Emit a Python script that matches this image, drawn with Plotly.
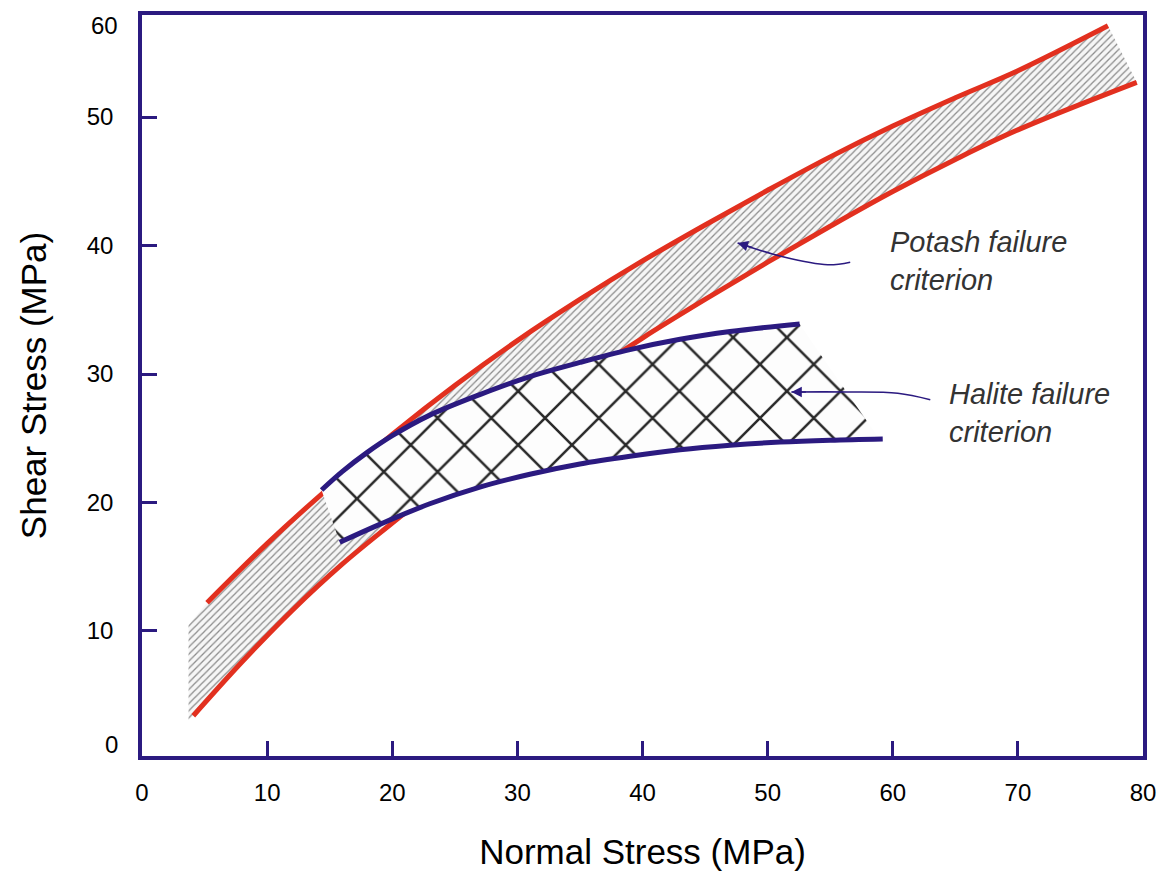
import plotly.graph_objects as go

# ---- data ----
potash_upper_x = [5.2, 10, 15, 20, 25, 30, 35, 40, 45, 50, 55, 60, 65, 70, 77.2]
potash_upper_y = [12.2, 16.8, 21.2, 25.3, 29.1, 32.6, 35.8, 38.8, 41.6, 44.3, 46.9, 49.3, 51.5, 53.6, 57.1]

potash_lower_x = [4.1, 8, 12, 16, 20, 25, 30, 35, 40, 45, 50, 55, 60, 65, 70, 79.5]
potash_lower_y = [3.4, 7.6, 11.6, 15.2, 18.4, 22.3, 26.1, 29.6, 32.8, 35.8, 38.7, 41.5, 44.2, 46.7, 49.0, 52.7]

potash_left_edge_x = [3.72, 3.72]
potash_left_edge_y = [3.07, 10.47]

halite_upper_x = [14.35, 16, 18, 20, 23, 27, 31, 35, 39, 43, 47, 52.56]
halite_upper_y = [20.97, 22.4, 23.9, 25.2, 26.8, 28.4, 29.8, 30.9, 31.9, 32.7, 33.3, 33.9]

halite_lower_x = [15.8, 19, 23, 27, 31, 35, 39, 43, 47, 51, 55, 59.2]
halite_lower_y = [16.9, 18.3, 19.9, 21.2, 22.2, 23.0, 23.6, 24.1, 24.45, 24.7, 24.85, 24.95]

halite_right_edge_x = [53.92, 58.71]
halite_right_edge_y = [31.95, 25.26]

potash_arrow_x = [56.6, 54.8, 51.3, 47.6]
potash_arrow_y = [38.7, 38.5, 39.1, 40.2]
halite_arrow_x = [63.0, 60.4, 56.4, 51.9]
halite_arrow_y = [28.0, 28.5, 28.6, 28.6]

x_ticks = [0, 10, 20, 30, 40, 50, 60, 70, 80]
y_ticks = [10, 20, 30, 40, 50]
y_extra_labels = ["0", "60"]
y_extra_pos = [1.13, 57.16]

RED = "#E2301F"
BLUE = "#2B1A80"
FONT = "Arial, Liberation Sans, sans-serif"

fig = go.Figure()

# potash band fill
px_poly = potash_upper_x + potash_lower_x[::-1] + potash_left_edge_x + [potash_upper_x[0]]
py_poly = potash_upper_y + potash_lower_y[::-1] + potash_left_edge_y + [potash_upper_y[0]]
fig.add_trace(go.Scatter(
    x=px_poly, y=py_poly, mode="lines", fill="toself",
    line=dict(width=0), fillcolor="rgba(0,0,0,0)",
    fillpattern=dict(shape="/", size=5, solidity=0.25, fgcolor="#444444",
                     fgopacity=0.6, bgcolor="#f6f6f6"),
    hoverinfo="skip", showlegend=False))

# potash red lines
fig.add_trace(go.Scatter(x=potash_upper_x, y=potash_upper_y, mode="lines",
                         line=dict(color=RED, width=5, shape="spline"),
                         showlegend=False, hoverinfo="skip"))
fig.add_trace(go.Scatter(x=potash_lower_x, y=potash_lower_y, mode="lines",
                         line=dict(color=RED, width=5, shape="spline"),
                         showlegend=False, hoverinfo="skip"))

# halite region fill
hx_poly = halite_upper_x + halite_right_edge_x + halite_lower_x[::-1] + [halite_upper_x[0]]
hy_poly = halite_upper_y + halite_right_edge_y + halite_lower_y[::-1] + [halite_upper_y[0]]
fig.add_trace(go.Scatter(
    x=hx_poly, y=hy_poly, mode="lines", fill="toself",
    line=dict(width=0), fillcolor="rgba(0,0,0,0)",
    fillpattern=dict(shape="x", size=38, solidity=0.13, fgcolor="#111111",
                     fgopacity=0.9, bgcolor="#fdfdfd"),
    hoverinfo="skip", showlegend=False))

# halite blue lines
fig.add_trace(go.Scatter(x=halite_upper_x, y=halite_upper_y, mode="lines",
                         line=dict(color=BLUE, width=5, shape="spline"),
                         showlegend=False, hoverinfo="skip"))
fig.add_trace(go.Scatter(x=halite_lower_x, y=halite_lower_y, mode="lines",
                         line=dict(color=BLUE, width=5, shape="spline"),
                         showlegend=False, hoverinfo="skip"))

# curved arrow shafts
for ax_, ay_ in [(potash_arrow_x, potash_arrow_y), (halite_arrow_x, halite_arrow_y)]:
    fig.add_trace(go.Scatter(x=ax_, y=ay_, mode="lines",
                             line=dict(color=BLUE, width=1.6, shape="spline"),
                             showlegend=False, hoverinfo="skip"))

# arrow heads
fig.add_annotation(x=potash_arrow_x[-1], y=potash_arrow_y[-1], ax=16, ay=5,
                   showarrow=True, arrowhead=2, arrowsize=1.3, arrowwidth=1.6,
                   arrowcolor=BLUE, text="")
fig.add_annotation(x=halite_arrow_x[-1], y=halite_arrow_y[-1], ax=16, ay=0,
                   showarrow=True, arrowhead=2, arrowsize=1.3, arrowwidth=1.6,
                   arrowcolor=BLUE, text="")

# labels
fig.add_annotation(x=59.6, y=38.8, xanchor="left", yanchor="middle", showarrow=False,
                   text="<i>Potash failure<br>criterion</i>", align="left",
                   font=dict(family=FONT, size=29, color="#333333"))
fig.add_annotation(x=64.3, y=27.0, xanchor="left", yanchor="middle", showarrow=False,
                   text="<i>Halite failure<br>criterion</i>", align="left",
                   font=dict(family=FONT, size=29, color="#333333"))

# extra y labels (0 and 60)
for t, v in zip(y_extra_labels, y_extra_pos):
    fig.add_annotation(x=-0.022, xref="paper", y=v, yref="y", xanchor="right",
                       yanchor="middle", showarrow=False, text=t,
                       font=dict(family=FONT, size=24, color="black"))

fig.update_layout(
    width=1172, height=882,
    margin=dict(l=142, r=29, t=15, b=126),
    paper_bgcolor="white", plot_bgcolor="white",
    font=dict(family=FONT, color="black"),
    xaxis=dict(range=[0, 80], tickvals=x_ticks, ticktext=[str(v) for v in x_ticks],
               ticks="inside", ticklen=15, tickwidth=3, tickcolor=BLUE,
               showline=True, linewidth=3.5, linecolor=BLUE, mirror=True,
               showgrid=False, zeroline=False, ticklabelstandoff=12,
               tickfont=dict(family=FONT, size=24, color="black"),
               title=dict(text="Normal Stress (MPa)", standoff=36,
                          font=dict(family=FONT, size=35, color="black"))),
    yaxis=dict(range=[0.27, 57.94], tickvals=y_ticks, ticktext=[str(v) for v in y_ticks],
               ticks="inside", ticklen=15, tickwidth=3, tickcolor=BLUE,
               showline=True, linewidth=3.5, linecolor=BLUE, mirror=True,
               showgrid=False, zeroline=False, ticklabelstandoff=20,
               tickfont=dict(family=FONT, size=24, color="black"),
               title=dict(text="Shear Stress (MPa)", standoff=30,
                          font=dict(family=FONT, size=35, color="black"))),
)

fig.write_html("out.html")
